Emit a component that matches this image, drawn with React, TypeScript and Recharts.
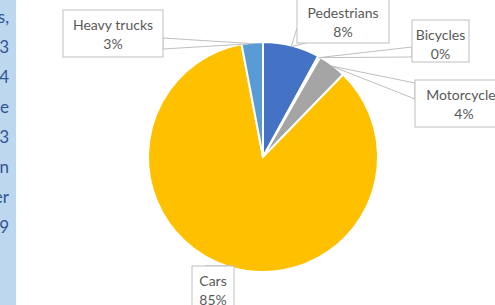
import { PieChart, Pie, Cell } from "recharts";

const modes = ["Pedestrians", "Bicycles", "Motorcycles", "Cars", "Heavy trucks"];
const shares = [8, 0.3, 4, 85, 3];
const sliceColors = ["#4472C4", "#ED7D31", "#A5A5A5", "#FFC000", "#5B9BD5"];
const sideText = ["s,", "3", "4", "e", "3", "n", "er", "9"];

const data = modes.map((name, i) => ({ name, value: shares[i] }));

// callout boxes (x, y, w, h) and where the pointer leaves the box
const boxes = [
  { x: 297, y: -2, w: 92, h: 45, b1: [297, 28], b2: [306, 43] },
  { x: 412, y: 20, w: 57, h: 42, b1: [412, 47], b2: [412, 57] },
  { x: 415, y: 80, w: 98, h: 47, b1: [415, 83], b2: [415, 99] },
  { x: 192, y: 266, w: 42, h: 45, b1: [205, 266], b2: [222, 266] },
  { x: 63, y: 10, w: 100, h: 47, b1: [163, 38], b2: [163, 49] },
];

const RAD = Math.PI / 180;

function Callout(props: any) {
  const { cx, cy, midAngle, outerRadius, index, value, name } = props;
  const b = boxes[index];
  const tx = cx + outerRadius * 0.99 * Math.cos(-midAngle * RAD);
  const ty = cy + outerRadius * 0.99 * Math.sin(-midAngle * RAD);
  const mx = b.x + b.w / 2;
  return (
    <g>
      <polygon
        points={`${b.b1[0]},${b.b1[1]} ${tx},${ty} ${b.b2[0]},${b.b2[1]}`}
        fill="#fff"
        stroke="#BFBFBF"
        strokeWidth={1}
      />
      <rect x={b.x} y={b.y} width={b.w} height={b.h} fill="#fff" stroke="#BFBFBF" strokeWidth={1} />
      <text x={mx} y={b.y + 14} textAnchor="middle" dominantBaseline="central" fill="#595959" fontSize={14} fontFamily="Lato, sans-serif">
        {name}
      </text>
      <text x={mx} y={b.y + 33} textAnchor="middle" dominantBaseline="central" fill="#595959" fontSize={14} fontFamily="Lato, sans-serif">
        {`${Math.round(value)}%`}
      </text>
    </g>
  );
}

export default function App() {
  return (
    <div style={{ position: "absolute", left: 0, top: 0, width: 495, height: 305, overflow: "hidden", background: "#fff" }}>
      <div style={{ position: "absolute", left: 0, top: 0, width: 16, height: 305, background: "#BDD7EE", overflow: "hidden" }}>
        {sideText.map((t, i) => (
          <div
            key={i}
            style={{
              position: "absolute",
              right: 7,
              top: 5 + i * 30,
              fontFamily: "Lato, sans-serif",
              fontSize: 17,
              lineHeight: "24px",
              color: "#2F5597",
              whiteSpace: "nowrap",
            }}
          >
            {t}
          </div>
        ))}
      </div>
      <div style={{ position: "absolute", left: 0, top: 0 }}>
        <PieChart width={495} height={305} margin={{ top: 0, right: 0, bottom: 0, left: 0 }}>
          <Pie
            data={data}
            dataKey="value"
            nameKey="name"
            cx={263}
            cy={157}
            outerRadius={115}
            startAngle={90}
            endAngle={-270}
            stroke="#fff"
            strokeWidth={2}
            label={Callout}
            labelLine={false}
            isAnimationActive={false}
          >
            {data.map((d, i) => (
              <Cell key={d.name} fill={sliceColors[i]} />
            ))}
          </Pie>
        </PieChart>
      </div>
    </div>
  );
}
